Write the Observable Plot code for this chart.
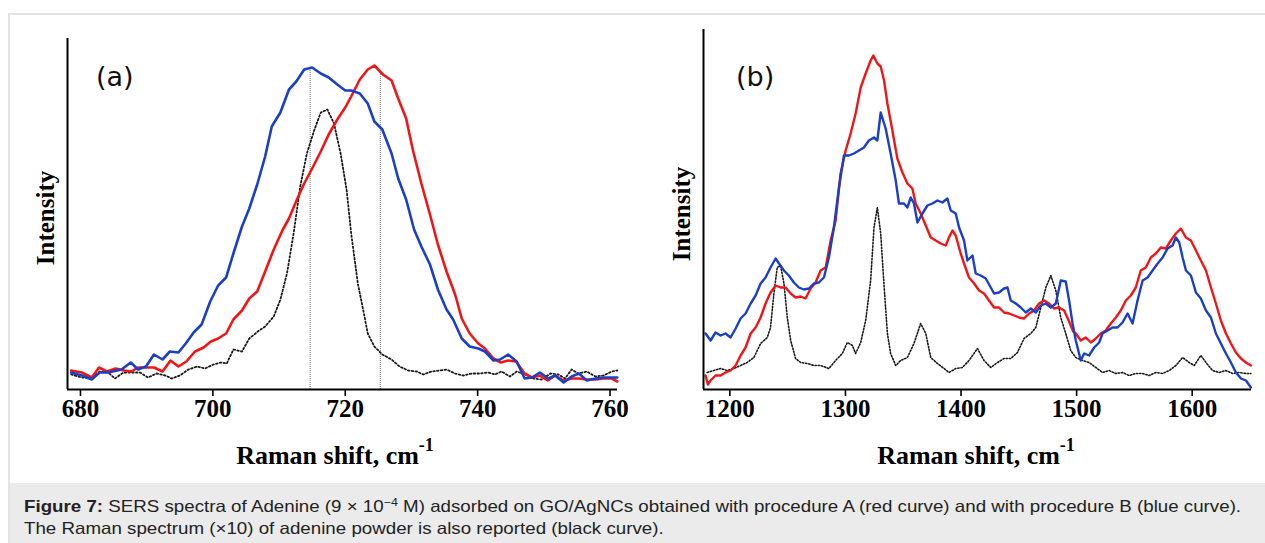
<!DOCTYPE html>
<html>
<head>
<meta charset="utf-8">
<script src="https://cdn.jsdelivr.net/npm/d3@7"></script>
<script src="https://cdn.jsdelivr.net/npm/@observablehq/plot@0.6"></script>
<style>
  html, body { margin: 0; padding: 0; background: #fff; }
  #root { position: relative; width: 1265px; height: 543px; overflow: hidden; background: #fff; }
  #frameTop { position: absolute; left: 8px; top: 13px; width: 1257px; height: 2px; background: #e4e4e4; }
  #frameLeft { position: absolute; left: 8px; top: 13px; width: 2px; height: 530px; background: #e4e4e4; }
  #caption { position: absolute; left: 10px; top: 483px; width: 1255px; height: 60px; background: #ebebeb; }
  #captionText { position: absolute; left: 14px; top: 12px; white-space: nowrap;
             font-family: "Liberation Sans", Arial, sans-serif; font-size: 16.5px; line-height: 22px; color: #222;
             transform: scaleX(1.135); transform-origin: 0 0; }
  #captionText sup { font-size: 11px; line-height: 0; vertical-align: 6px; }
  .panel { position: absolute; top: 0; }
  #overlay { position: absolute; left: 0; top: 0; pointer-events: none; }
</style>
</head>
<body>
<div id="root">
  <div id="frameTop"></div>
  <div id="frameLeft"></div>
  <div id="caption"><div id="captionText"><b>Figure 7:</b> SERS spectra of Adenine (9 × 10<sup>−4</sup> M) adsorbed on GO/AgNCs obtained with procedure A (red curve) and with procedure B (blue curve).<br>The Raman spectrum (×10) of adenine powder is also reported (black curve).</div></div>
</div>
<script>
// ---------------- DATA ----------------
// Panel (a): 680–760 cm-1 region, [Raman shift, intensity (arb.)]
const aTicks = [680, 700, 720, 740, 760];
const aRed = [[678.6,19],[680.2,17],[681.7,12],[682.8,22],[684,18],[685.3,21],[686.6,19],[687.7,18],[688.7,22],[691.1,22],[692.4,18],[693.6,29],[694.8,23],[696,28],[697.3,38],[698.6,42],[699.7,48],[700.8,51],[702,56],[703.1,70],[704.4,79],[705.5,91],[706.7,98],[707.9,118],[709.2,140],[710.5,159],[711.5,171],[712.7,190],[713.8,206],[715,221],[716.3,238],[717.5,255],[718.8,270],[720,282],[720.9,293],[722.2,310],[723.4,320],[724.4,324],[725.7,315],[727,309],[728,291],[729.2,271],[730.2,240],[731.5,206],[732.8,175],[734,145],[735.3,118],[736.6,95],[737.6,71],[738.8,56],[740.1,46],[741.1,41],[742.4,31],[743.5,27],[744.6,29],[745.8,28],[747.1,16],[748.2,12],[749.4,14],[750.6,9],[751.7,14],[753,9],[754.2,11],[755.3,11],[756.5,10],[757.8,10],[759,11],[760.3,11],[761.1,8]];
const aBlue = [[678.6,17],[680.2,14],[681.7,10],[682.9,17],[684.2,17],[686.2,20],[687.6,27],[688.7,20],[689.9,23],[691.1,35],[692.4,30],[693.5,38],[694.8,37],[695.9,46],[697.1,57],[698.3,65],[699.6,88],[700.8,104],[702,112],[703.1,136],[704.4,163],[705.5,181],[706.7,205],[707.9,233],[708.9,263],[710.2,277],[711.5,300],[712.6,308],[713.8,320],[715,322],[716.3,316],[717.5,312],[718.8,305],[720,299],[720.9,299],[722.2,296],[723.4,286],[724.4,268],[725.6,260],[727,236],[728,211],[729.2,190],[730.4,160],[731.5,143],[732.8,125],[734,100],[735.3,80],[736.3,70],[737.6,51],[738.8,43],[740.1,41],[741.1,38],[742.4,29],[743.4,30],[744.6,35],[745.9,28],[747.1,11],[748.2,12],[749.4,17],[750.7,11],[751.7,14],[753,7],[754.2,13],[755.3,16],[756.5,9],[757.8,11],[759,12],[760.3,12],[761.1,12]];
const aBlack = [[678.6,15],[680.2,12],[681.7,11],[682.9,18],[684.2,17],[685.2,11],[686.5,17],[687.7,17],[689,17],[690.2,12],[691.5,16],[692.8,14],[693.8,11],[695,14],[696.3,20],[697.6,23],[698.8,21],[700.1,25],[701.2,27],[702.1,26],[703.1,40],[704.4,38],[705.5,51],[706.8,58],[707.9,63],[709.2,73],[710.2,90],[711.2,116],[712.2,156],[713.2,203],[714.2,236],[715.3,259],[716.3,277],[717.3,280],[718.3,266],[719.3,236],[720.2,200],[720.9,156],[721.9,106],[722.7,80],[723.4,56],[724.4,43],[725.6,35],[727,30],[728.2,23],[729.5,19],[730.8,18],[731.8,15],[733,18],[734.3,19],[735.3,20],[736.6,16],[737.8,14],[739.1,16],[740.3,16],[741.6,17],[742.6,15],[743.6,18],[744.9,13],[745.9,18],[747.2,15],[748.4,11],[749.7,10],[751,16],[752.2,15],[753.2,11],[754.2,20],[755.2,16],[756.5,18],[757.8,13],[759,14],[760.3,18],[761.1,19]];
const aMarkers = [[714.7,321],[725.3,318]];   // peak guide lines

// Panel (b): 1180–1650 cm-1 region
const bTicks = [1200, 1300, 1400, 1500, 1600];
const bRed = [[1179,14],[1181,5],[1183.3,9],[1187.6,14],[1192,14],[1196.3,17],[1200.6,19],[1205,24],[1209.3,34],[1213.6,42],[1218,56],[1222.3,62],[1226.6,72],[1230.9,86],[1235.2,97],[1239.6,104],[1243.9,102],[1248.2,102],[1252.6,96],[1256.9,92],[1261.2,93],[1265.5,91],[1269.9,101],[1274.2,107],[1278.5,119],[1282.9,122],[1287.2,149],[1291.5,169],[1295.8,216],[1300.2,239],[1304.5,256],[1308.8,276],[1313.2,302],[1317.5,316],[1321.8,329],[1324.1,334],[1327.6,326],[1330.5,323],[1333.4,309],[1336.3,286],[1340.6,259],[1344.9,231],[1349.3,217],[1353.6,206],[1357.9,201],[1360.8,186],[1365.1,176],[1369.5,164],[1373.8,152],[1378.1,149],[1382.4,146],[1386.8,144],[1389.6,152],[1392.6,159],[1395.4,154],[1399.7,136],[1402.6,126],[1406.9,112],[1411.3,106],[1415.6,99],[1419.9,96],[1424.2,89],[1428.6,82],[1432.9,82],[1437.2,77],[1441.6,76],[1445.9,74],[1450.2,72],[1454.5,71],[1458.9,76],[1463.2,79],[1467.5,86],[1471.9,89],[1476.2,86],[1480.5,81],[1484.8,82],[1489.2,79],[1493.5,68],[1497,58],[1499.3,56],[1503.6,49],[1507.9,52],[1512.3,47],[1516.6,51],[1520.9,56],[1525.2,59],[1529.6,66],[1533.9,72],[1538.2,79],[1542.6,89],[1546.9,94],[1551.2,102],[1555.5,119],[1559.9,122],[1564.2,132],[1568.5,136],[1572.9,142],[1577.2,141],[1581.5,149],[1585.9,156],[1590.2,161],[1594.5,152],[1598.9,149],[1603.2,139],[1607.5,129],[1611.9,119],[1616.2,102],[1620.5,86],[1624.8,69],[1629.2,56],[1633.5,46],[1637.8,37],[1642.2,31],[1646.5,27],[1650.8,24]];
const bBlue = [[1179,56],[1183.3,49],[1187.6,57],[1192,54],[1196.3,56],[1200.6,52],[1205,61],[1209.3,71],[1213.6,76],[1218,86],[1222.3,94],[1226.6,106],[1230.9,112],[1235.2,122],[1239.6,131],[1242.5,126],[1246.8,119],[1251,114],[1255.4,107],[1259.7,102],[1264,100],[1268.4,101],[1272.7,106],[1277,107],[1281.4,112],[1285.7,132],[1290,162],[1294.4,202],[1298.7,234],[1303,234],[1307.4,236],[1311.7,239],[1316,242],[1320.3,249],[1324.7,252],[1327.6,249],[1330.5,277],[1334.8,261],[1339.1,236],[1343.5,209],[1346.3,186],[1350.6,186],[1353.6,182],[1356.5,192],[1359.3,186],[1362.3,167],[1366.6,176],[1370.9,184],[1375.2,186],[1379.6,189],[1383.9,187],[1388.2,191],[1391.1,179],[1395.4,176],[1398.3,162],[1402.6,149],[1405.5,129],[1409.9,134],[1412.7,116],[1417,114],[1421.4,111],[1425.7,102],[1428.6,96],[1432.9,97],[1437.2,101],[1440.2,102],[1443,89],[1447.4,86],[1451.7,82],[1456,77],[1460.4,81],[1464.7,77],[1469,84],[1473.4,86],[1477.7,82],[1482,86],[1486.3,109],[1490.6,108],[1493.5,89],[1496.5,66],[1499.3,49],[1503.6,29],[1506.5,36],[1510.8,34],[1515.2,42],[1519.5,47],[1522.4,56],[1526.8,59],[1531.1,62],[1535.4,62],[1539.7,67],[1544.1,76],[1548.4,66],[1552.7,89],[1557.1,109],[1561.4,112],[1565.7,119],[1570.1,126],[1574.4,132],[1578.7,141],[1583,144],[1585.9,152],[1588.8,147],[1591.7,132],[1594.6,119],[1598.9,114],[1603.2,97],[1607.5,91],[1611.9,79],[1616.2,72],[1620.5,56],[1624.8,46],[1629.2,36],[1633.5,27],[1637.8,17],[1642.2,11],[1646.5,9],[1650.8,2]];
const bBlack = [[1180.4,17],[1186.1,19],[1192,21],[1197.7,19],[1203.5,21],[1209.3,24],[1215,27],[1220.8,32],[1226.6,46],[1232.4,52],[1235.2,62],[1238.1,96],[1241,122],[1243.9,124],[1246.8,106],[1249.7,72],[1252.6,49],[1256.9,31],[1261.2,27],[1267,26],[1272.7,24],[1278.5,24],[1285.7,21],[1291.5,29],[1297.3,36],[1301.6,47],[1306,44],[1308.8,36],[1313.2,47],[1317.5,69],[1321.8,109],[1324.7,162],[1327.6,182],[1330.5,156],[1333.4,104],[1336.3,56],[1339.1,36],[1343.5,24],[1347.8,29],[1353.6,32],[1359.3,46],[1365.1,66],[1369.5,56],[1373.8,32],[1379.6,26],[1385.3,21],[1389.6,17],[1395.4,21],[1401.2,22],[1406.9,29],[1414.2,41],[1419.9,29],[1425.7,22],[1431.5,27],[1437.2,31],[1443,31],[1448.8,37],[1454.5,51],[1460.4,56],[1464.7,62],[1469,82],[1473.4,102],[1477.7,114],[1482,99],[1486.3,72],[1490.6,56],[1494.9,39],[1499.3,32],[1505.1,29],[1510.8,27],[1516.6,22],[1522.4,17],[1528.1,19],[1533.9,16],[1539.7,17],[1545.5,14],[1551.2,16],[1557,16],[1562.8,14],[1568.5,17],[1574.4,16],[1580.1,19],[1585.9,24],[1591.7,32],[1597.4,27],[1601.7,24],[1607.5,34],[1611.9,27],[1617.6,19],[1623.4,17],[1629.2,19],[1635,16],[1640.7,17],[1646.5,16],[1650.8,16]];

const xTitle = "Raman shift, cm";
const xTitleSup = "-1";
const yTitle = "Intensity";
const panelLabels = ["(a)", "(b)"];

// ---------------- STYLE ----------------
const RED = "#f01616", BLUE = "#1b3fc6", BLACK = "#1a1a1a";
const serif = "'Liberation Serif', 'Times New Roman', serif";

function panel({width, marginLeft, marginRight, marginTop, xDomain, yDomain, ticks, red, blue, black, markers, lw, dash}) {
  const marks = [];
  if (markers) {
    marks.push(Plot.ruleX(markers, {x: d => d[0], y1: 0, y2: d => d[1], stroke: "#8a8a8a", strokeWidth: 1.2, strokeDasharray: "1,1"}));
  }
  marks.push(
    Plot.line(black, {stroke: BLACK, strokeWidth: dash.w, strokeDasharray: dash.d, curve: "linear"}),
    Plot.line(red, {stroke: RED, strokeWidth: lw}),
    Plot.line(blue, {stroke: BLUE, strokeWidth: lw}),
    Plot.ruleX([xDomain[0]], {stroke: "#000", strokeWidth: 2}),
    Plot.ruleY([yDomain[0]], {stroke: "#000", strokeWidth: 2.2}),
    Plot.axisX(ticks, {tickSize: 7, tickPadding: 3, fontSize: 25, fontWeight: "bold", fontFamily: serif, strokeWidth: 1.6, label: null, tickFormat: d => String(d)})
  );
  return Plot.plot({
    width, height: 480,
    marginLeft, marginRight, marginTop, marginBottom: 91,
    x: {domain: xDomain},
    y: {domain: yDomain, axis: null},
    style: {background: "transparent", color: "#000", overflow: "visible", fontFamily: serif},
    marks
  });
}

const root = document.getElementById("root");

const svgA = panel({
  width: 640, marginLeft: 67, marginRight: 23, marginTop: 38,
  xDomain: [678.04, 761.13], yDomain: [0, 351], ticks: aTicks,
  red: aRed, blue: aBlue, black: aBlack, markers: aMarkers, lw: 2.6,
  dash: {w: 1.8, d: "1.6,2.2"}
});
svgA.classList.add("panel");
svgA.style.left = "0px";
root.appendChild(svgA);

const svgB = panel({
  width: 625, marginLeft: 63, marginRight: 14, marginTop: 29,
  xDomain: [1177.2, 1651.3], yDomain: [0, 360], ticks: bTicks,
  red: bRed, blue: bBlue, black: bBlack, markers: null, lw: 2.4,
  dash: {w: 1.6, d: "1.4,1.8"}
});
svgB.classList.add("panel");
svgB.style.left = "640px";
root.appendChild(svgB);

// ---------------- TITLES (real text) ----------------
const ov = d3.select(root).append("svg").attr("id", "overlay").attr("width", 1265).attr("height", 543);
const titles = [
  {cx: 335, ly: 45, lx: 218, label: panelLabels[0], px: 96},
  {cx: 976, ly: 681, lx: 214, label: panelLabels[1], px: 736}
];
titles.forEach(t => {
  const xt = ov.append("text").attr("x", t.cx).attr("y", 464).attr("text-anchor", "middle")
    .attr("font-family", serif).attr("font-weight", "bold").attr("font-size", 26).attr("fill", "#000");
  xt.append("tspan").text(xTitle);
  xt.append("tspan").attr("dy", -13).attr("font-size", 18).text(xTitleSup);
  ov.append("text").attr("transform", `translate(${t.ly + 9},${t.lx}) rotate(-90)`).attr("text-anchor", "middle")
    .attr("font-family", serif).attr("font-weight", "bold").attr("font-size", 25).attr("fill", "#000").text(yTitle);
  ov.append("text").attr("x", t.px).attr("y", 86).attr("font-family", "'DejaVu Sans', sans-serif")
    .attr("font-size", 27).attr("fill", "#111").text(t.label);
});
</script>
</body>
</html>
